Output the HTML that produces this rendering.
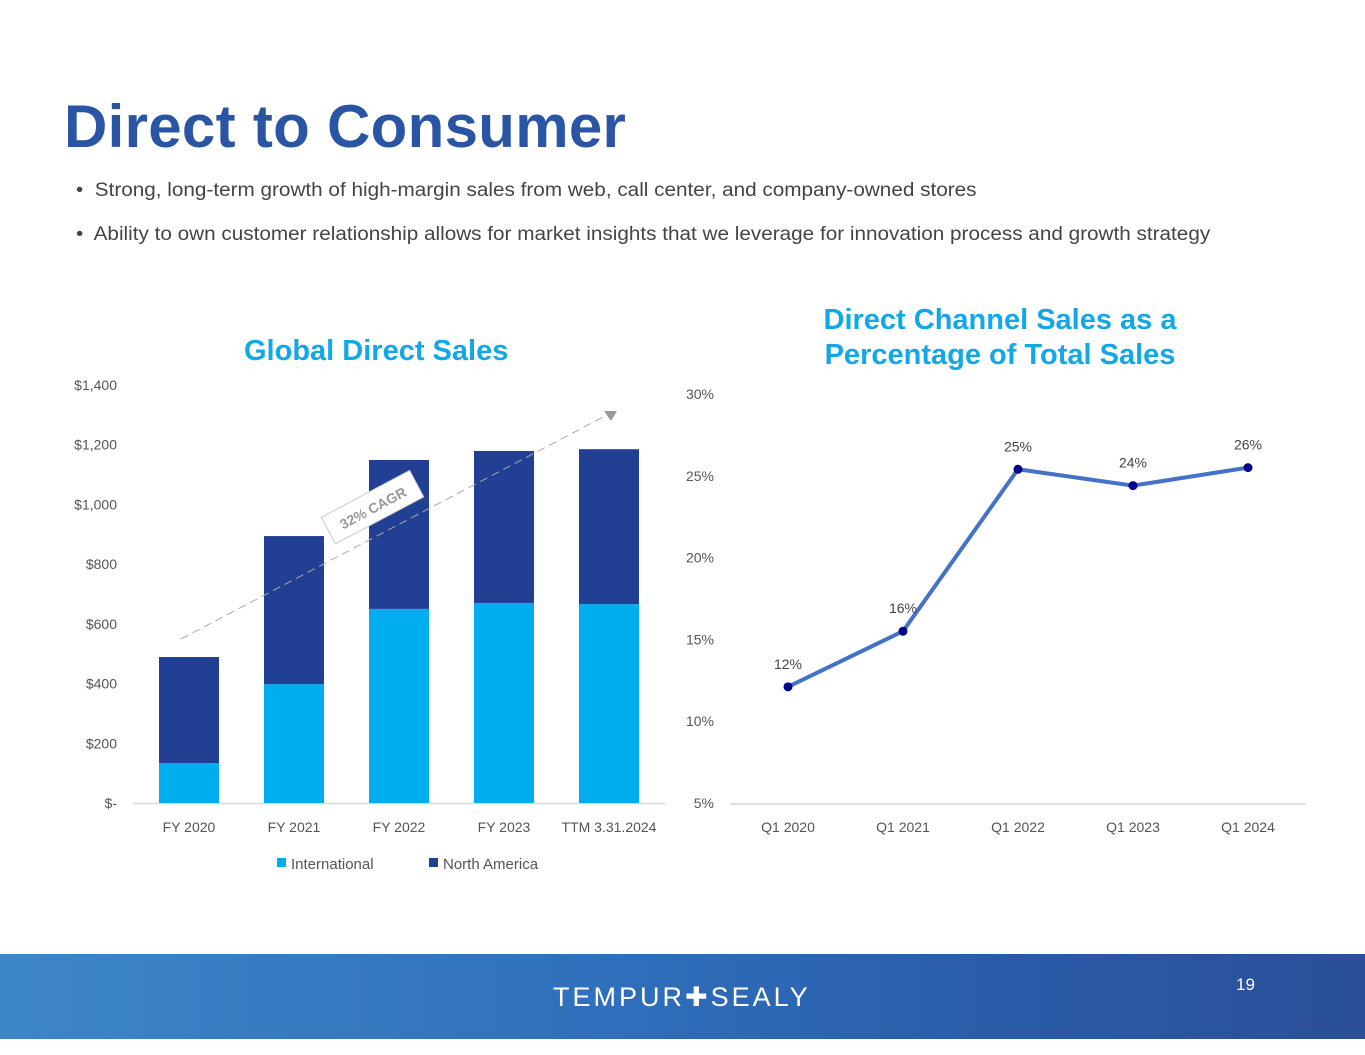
<!DOCTYPE html>
<html><head><meta charset="utf-8">
<style>
body{margin:0;width:1365px;height:1055px;background:#fff;position:relative;overflow:hidden;font-family:"Liberation Sans",sans-serif}
.t{position:absolute;white-space:nowrap}
.b{transform:scaleX(1.09);transform-origin:0 0}
</style></head><body>
<div class="t" style="left:64px;top:92px;font-size:60px;font-weight:bold;color:#2a55a5;letter-spacing:0.3px">Direct to Consumer</div>
<div class="t b" style="left:76px;top:180px;font-size:19px;color:#444">•&nbsp; Strong, long-term growth of high-margin sales from web, call center, and company-owned stores</div>
<div class="t b" style="left:76px;top:224px;font-size:19px;color:#444">•&nbsp; Ability to own customer relationship allows for market insights that we leverage for innovation process and growth strategy</div>
<div class="t" style="left:244px;top:335px;font-size:29px;font-weight:bold;color:#12a8e6">Global Direct Sales</div>
<div class="t" style="left:790px;top:303px;width:420px;text-align:center;font-size:29px;font-weight:bold;color:#12a8e6;line-height:35px">Direct Channel Sales as a<br>Percentage of Total Sales</div>
<svg id="chart" width="1365" height="1055" style="position:absolute;left:0;top:0"></svg>
<div style="position:absolute;left:0;top:954px;width:1365px;height:85px;background:linear-gradient(90deg,#3d86c8 0%,#2f6fbb 45%,#2a5aa8 75%,#2b4f98 100%)"></div>
<div class="t" style="left:553px;top:982px;font-size:27px;color:#fff;letter-spacing:3px">TEMPUR✚SEALY</div>
<div class="t" style="left:1236px;top:975px;font-size:17px;color:#fff">19</div>
<script>
const barCats=["FY 2020","FY 2021","FY 2022","FY 2023","TTM 3.31.2024"];
const intl=[134,398,650,670,666];
const na=[355,496,499,509,519];
const barTicks=[0,200,400,600,800,1000,1200,1400];
const barTickLabels=["$-","$200","$400","$600","$800","$1,000","$1,200","$1,400"];
const lineCats=["Q1 2020","Q1 2021","Q1 2022","Q1 2023","Q1 2024"];
const pct=[12.1,15.5,25.4,24.4,25.5];
const pctLabels=["12%","16%","25%","24%","26%"];
const pctTicks=[5,10,15,20,25,30];
const NS="http://www.w3.org/2000/svg";
const svg=document.getElementById("chart");
function mk(tag,attrs,txt){const e=document.createElementNS(NS,tag);for(const k in attrs)e.setAttribute(k,attrs[k]);if(txt!==undefined)e.textContent=txt;svg.appendChild(e);return e;}
const by=v=>803-v*418/1400;
const bx=i=>189+i*105;
const ly=v=>803-(v-5)*409/25;
const lx=i=>788+i*115;
const F='"Liberation Sans",sans-serif';
barTicks.forEach((t,i)=>{const e=mk("text",{x:117,y:by(t)+5,"text-anchor":"end","font-size":14,fill:"#555","font-family":F},barTickLabels[i]);

});
const ax=mk("line",{x1:133,x2:665,y1:803.5,y2:803.5,stroke:"#d9d9d9","stroke-width":1.5});


barCats.forEach((c,i)=>{
 const a=mk("rect",{x:bx(i)-30,y:by(intl[i]),width:60,height:by(0)-by(intl[i]),fill:"#00aeef"});
 
 
 const b=mk("rect",{x:bx(i)-30,y:by(intl[i]+na[i]),width:60,height:by(intl[i])-by(intl[i]+na[i]),fill:"#213f93"});
 
 
 const l=mk("text",{x:bx(i),y:832,"text-anchor":"middle","font-size":14,fill:"#555","font-family":F},c);
 
 
});
const tr=mk("line",{x1:181,y1:639,x2:605,y2:416,stroke:"#aaa","stroke-width":1,"stroke-dasharray":"8,5"});


const ar=mk("polygon",{points:"604,411 617,411 611,421",fill:"#999"});


const g=mk("g",{transform:"translate(373,508) rotate(-28)"});


const r=document.createElementNS(NS,"rect");r.setAttribute("x",-50);r.setAttribute("y",-16);r.setAttribute("width",100);r.setAttribute("height",30);r.setAttribute("fill","#fff");r.setAttribute("stroke","#ccc");g.appendChild(r);
const tt=document.createElementNS(NS,"text");tt.setAttribute("text-anchor","middle");tt.setAttribute("y",5);tt.setAttribute("font-size",14);tt.setAttribute("fill","#999");tt.setAttribute("font-family",F);tt.setAttribute("font-weight","bold");tt.textContent="32% CAGR";g.appendChild(tt);
[["#00aeef","International",277],["#213f93","North America",429]].forEach(([c,n,x])=>{
 const s=mk("rect",{x:x,y:858,width:9,height:9,fill:c});
 
 
 const t=mk("text",{x:x+14,y:869,"font-size":15,fill:"#555","font-family":F},n);
 
 
});
pctTicks.forEach(t=>{const e=mk("text",{x:714,y:ly(t)+5,"text-anchor":"end","font-size":14,fill:"#555","font-family":F},t+"%");

});
const ax2=mk("line",{x1:730,x2:1306,y1:804,y2:804,stroke:"#d9d9d9","stroke-width":1.5});


const pl=mk("polyline",{points:pct.map((v,i)=>lx(i)+","+ly(v)).join(" "),fill:"none",stroke:"#4472c4","stroke-width":4,"stroke-linejoin":"round"});


pct.forEach((v,i)=>{
 const c=mk("circle",{cx:lx(i),cy:ly(v),r:4.5,fill:"#00008b"});
 
 
 const t=mk("text",{x:lx(i),y:ly(v)-18,"text-anchor":"middle","font-size":14,fill:"#444","font-family":F},pctLabels[i]);
 
 
 const x=mk("text",{x:lx(i),y:832,"text-anchor":"middle","font-size":14,fill:"#555","font-family":F},lineCats[i]);
 
 
});
</script>
</body></html>
